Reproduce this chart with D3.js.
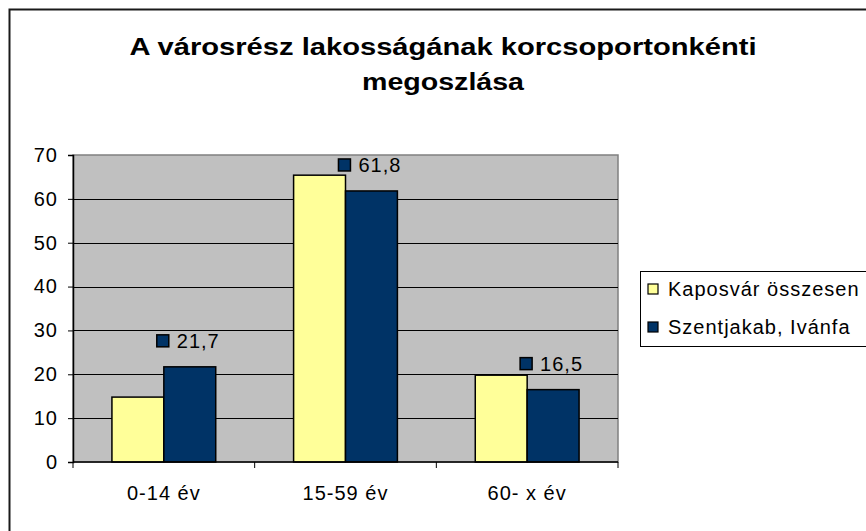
<!DOCTYPE html>
<html>
<head>
<meta charset="utf-8">
<script src="https://cdn.jsdelivr.net/npm/d3@7"></script>
<style>
  body { margin: 0; background: #fff; }
  svg { display: block; font-family: "Liberation Sans", Arial, sans-serif; }
</style>
</head>
<body>
<svg id="chart" width="866" height="531"></svg>
<script>
// Age groups and population share (%) for the two areas
const categories = ["0-14 év", "15-59 év", "60- x év"];
const seriesNames = ["Kaposvár összesen", "Szentjakab, Ivánfa"];
const kaposvarValues = [14.8, 65.4, 19.8];
const szentjakabValues = [21.7, 61.8, 16.5];
const yTicks = [0, 10, 20, 30, 40, 50, 60, 70];
const titleLines = ["A városrész lakosságának korcsoportonkénti", "megoszlása"];

const colors = ["#FFFF99", "#003366"];
const series = [kaposvarValues, szentjakabValues];

const FONT = 20;
const SPACING = 1;

const svg = d3.select("#chart");

// Outer chart frame
svg.append("rect")
  .attr("x", 9.5).attr("y", 9.5)
  .attr("width", 880).attr("height", 540)
  .attr("fill", "#fff").attr("stroke", "#1a1a1a").attr("stroke-width", 2);

// Title
const titleY = [55, 90];
const titleW = [627, 162];
titleLines.forEach((t, i) => {
  svg.append("text")
    .attr("x", 443).attr("y", titleY[i])
    .attr("text-anchor", "middle")
    .attr("font-size", 23).attr("font-weight", "bold")
    .attr("textLength", titleW[i]).attr("lengthAdjust", "spacingAndGlyphs")
    .attr("fill", "#000")
    .text(t);
});

// Plot area
const plot = { left: 73, right: 618, top: 155, bottom: 462 };

const x = d3.scaleBand()
  .domain(categories)
  .range([plot.left, plot.right])
  .paddingInner(0).paddingOuter(0);

const y = d3.scaleLinear()
  .domain([0, 70])
  .range([plot.bottom, plot.top]);

const xInner = d3.scaleBand()
  .domain(d3.range(series.length))
  .range([0, x.bandwidth()])
  .paddingInner(0)
  .paddingOuter(0.75);

svg.append("rect")
  .attr("x", plot.left).attr("y", plot.top)
  .attr("width", plot.right - plot.left).attr("height", plot.bottom - plot.top)
  .attr("fill", "#C0C0C0").attr("stroke", "#808080").attr("stroke-width", 1.5);

// Horizontal gridlines
svg.append("g")
  .selectAll("line")
  .data(yTicks.filter(d => d > 0 && d < 70))
  .join("line")
  .attr("x1", plot.left).attr("x2", plot.right)
  .attr("y1", d => Math.round(y(d)) + 0.5).attr("y2", d => Math.round(y(d)) + 0.5)
  .attr("stroke", "#000").attr("stroke-width", 1);

// Bars
series.forEach((vals, s) => {
  svg.append("g")
    .selectAll("rect")
    .data(vals)
    .join("rect")
    .attr("x", (d, i) => x(categories[i]) + xInner(s))
    .attr("y", d => y(d))
    .attr("width", xInner.bandwidth())
    .attr("height", d => y(0) - y(d))
    .attr("fill", colors[s])
    .attr("stroke", "#000").attr("stroke-width", 1.5);
});

// Y axis
const yAxis = d3.axisLeft(y)
  .tickValues(yTicks)
  .tickSize(5)
  .tickPadding(10)
  .tickFormat(d3.format("d"));
const gy = svg.append("g")
  .attr("transform", `translate(${plot.left},0)`)
  .call(yAxis);
gy.select(".domain").attr("stroke", "#000").attr("stroke-width", 1.5);
gy.selectAll(".tick line").attr("stroke", "#000");
gy.selectAll(".tick text")
  .attr("font-size", FONT).attr("letter-spacing", SPACING).attr("fill", "#000")
  .attr("font-family", "Liberation Sans, Arial, sans-serif");

// X axis with ticks between categories
const gx = svg.append("g")
  .attr("transform", `translate(0,${plot.bottom})`);
gx.append("line")
  .attr("x1", plot.left).attr("x2", plot.right)
  .attr("stroke", "#000").attr("stroke-width", 1.5);
gx.selectAll("line.sep")
  .data(categories.concat(["end"]))
  .join("line")
  .attr("class", "sep")
  .attr("x1", (d, i) => plot.left + i * x.bandwidth())
  .attr("x2", (d, i) => plot.left + i * x.bandwidth())
  .attr("y1", 0).attr("y2", 6)
  .attr("stroke", "#000");
gx.selectAll("text")
  .data(categories)
  .join("text")
  .attr("x", d => x(d) + x.bandwidth() / 2)
  .attr("y", 38)
  .attr("text-anchor", "middle")
  .attr("font-size", FONT).attr("letter-spacing", SPACING).attr("fill", "#000")
  .text(d => d);

// Data labels on the Szentjakab, Ivánfa series
const labelGap = 26;
const lg = svg.append("g")
  .selectAll("g")
  .data(szentjakabValues)
  .join("g")
  .attr("transform", (d, i) => {
    const cx = x(categories[i]) + xInner(1) + xInner.bandwidth() / 2;
    return `translate(${cx},${y(d) - labelGap})`;
  });
lg.append("rect")
  .attr("x", -33).attr("y", -6)
  .attr("width", 12).attr("height", 12)
  .attr("fill", colors[1]).attr("stroke", "#000").attr("stroke-width", 1.5);
lg.append("text")
  .attr("x", -13).attr("y", 7)
  .attr("font-size", FONT).attr("letter-spacing", SPACING).attr("fill", "#000")
  .text(d => d3.format(".1f")(d).replace(".", ","));

// Legend
const legend = svg.append("g");
legend.append("rect")
  .attr("x", 640.5).attr("y", 271.5)
  .attr("width", 240).attr("height", 75)
  .attr("fill", "#fff").attr("stroke", "#000").attr("stroke-width", 1);
const li = legend.selectAll("g.item")
  .data(seriesNames)
  .join("g")
  .attr("class", "item")
  .attr("transform", (d, i) => `translate(648,${289 + i * 38})`);
li.append("rect")
  .attr("x", 0).attr("y", -5)
  .attr("width", 10).attr("height", 10)
  .attr("fill", (d, i) => colors[i])
  .attr("stroke", "#000").attr("stroke-width", 1.2);
li.append("text")
  .attr("x", 20).attr("y", 7)
  .attr("font-size", FONT).attr("letter-spacing", SPACING).attr("fill", "#000")
  .text(d => d);
</script>
</body>
</html>
